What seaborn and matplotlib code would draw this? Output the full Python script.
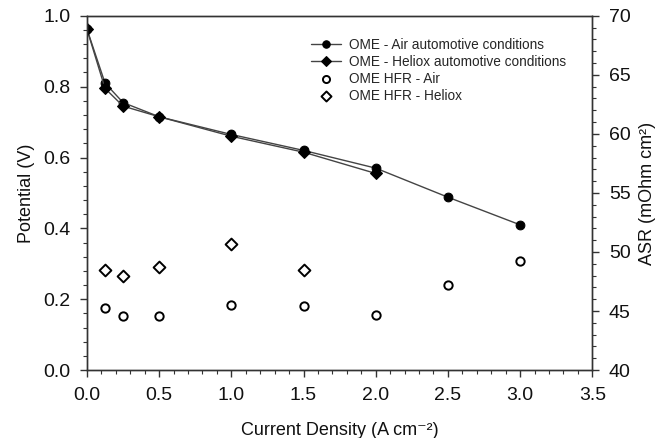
import matplotlib
matplotlib.use("Agg")
import matplotlib.pyplot as plt
from matplotlib.ticker import MultipleLocator, FormatStrFormatter
import seaborn as sns
import pandas as pd

sns.set_theme(style="white")
plt.rcParams['font.family'] = ['Liberation Sans', 'DejaVu Sans']

# Polarization curves
air_x = [0.0, 0.125, 0.25, 0.5, 1.0, 1.5, 2.0, 2.5, 3.0]
air_v = [0.962, 0.81, 0.755, 0.715, 0.665, 0.62, 0.57, 0.488, 0.41]
heliox_x = [0.0, 0.125, 0.25, 0.5, 1.0, 1.5, 2.0]
heliox_v = [0.962, 0.795, 0.745, 0.715, 0.66, 0.615, 0.555]

# HFR (ASR, mOhm cm2)
hfr_air_x = [0.125, 0.25, 0.5, 1.0, 1.5, 2.0, 2.5, 3.0]
hfr_air = [45.3, 44.6, 44.6, 45.5, 45.4, 44.7, 47.2, 49.2]
hfr_heliox_x = [0.125, 0.25, 0.5, 1.0, 1.5]
hfr_heliox = [48.5, 48.0, 48.7, 50.7, 48.5]

labels = ["OME - Air automotive conditions", "OME - Heliox automotive conditions",
          "OME HFR - Air", "OME HFR - Heliox"]

fig = plt.figure(figsize=(6.64, 4.38), dpi=100)
ax = fig.add_axes([0.131, 0.155, 0.761, 0.809])
ax2 = ax.twinx()

df_air = pd.DataFrame({"x": air_x, "y": air_v})
df_hel = pd.DataFrame({"x": heliox_x, "y": heliox_v})
sns.lineplot(data=df_air, x="x", y="y", ax=ax, color="#444444", lw=1.0,
             marker="o", markersize=6.3, markerfacecolor="black",
             markeredgecolor="black", label=labels[0], legend=False)
sns.lineplot(data=df_hel, x="x", y="y", ax=ax, color="#444444", lw=1.0,
             marker="D", markersize=6.0, markerfacecolor="black",
             markeredgecolor="black", label=labels[1], legend=False)

df_ha = pd.DataFrame({"x": hfr_air_x, "y": hfr_air})
df_hh = pd.DataFrame({"x": hfr_heliox_x, "y": hfr_heliox})
sns.scatterplot(data=df_ha, x="x", y="y", ax=ax2, marker="o", s=36,
                facecolor="white", edgecolor="black", linewidth=1.4,
                label=labels[2], legend=False)
sns.scatterplot(data=df_hh, x="x", y="y", ax=ax2, marker="D", s=36,
                facecolor="white", edgecolor="black", linewidth=1.4,
                label=labels[3], legend=False)

ax.set_xlim(0, 3.5)
ax.set_ylim(0, 1.0)
ax2.set_ylim(40, 70)
ax.xaxis.set_major_locator(MultipleLocator(0.5))
ax.xaxis.set_minor_locator(MultipleLocator(0.1))
ax.yaxis.set_major_locator(MultipleLocator(0.2))
ax.yaxis.set_minor_locator(MultipleLocator(0.04))
ax2.yaxis.set_major_locator(MultipleLocator(5))
ax2.yaxis.set_minor_locator(MultipleLocator(1))

ax.xaxis.set_major_formatter(FormatStrFormatter('%.1f'))
ax.yaxis.set_major_formatter(FormatStrFormatter('%.1f'))

for a in (ax, ax2):
    for s in a.spines.values():
        s.set_color("#333333")
        s.set_linewidth(1.0)
ax.tick_params(axis="both", which="major", direction="out", length=5,
               width=1, color="#333333", labelsize=14, pad=7, labelcolor="#111111")
ax.tick_params(axis="both", which="minor", direction="out", length=3,
               width=0.8, color="#333333")
ax.tick_params(axis="x", which="both", bottom=True, top=False)
ax.tick_params(axis="y", which="both", left=True, right=False)
ax2.tick_params(axis="y", which="major", direction="out", length=5, width=1,
                color="#333333", labelsize=14, labelcolor="#111111", right=True, pad=7)
ax2.tick_params(axis="y", which="minor", direction="out", length=3, width=0.8,
                color="#333333", right=True)

ax.set_xlabel("Current Density (A cm⁻²)", fontsize=13, color="#111111", labelpad=13)
ax.set_ylabel("Potential (V)", fontsize=13, color="#111111", labelpad=6)
ax2.set_ylabel("ASR (mOhm cm²)", fontsize=13, color="#111111", labelpad=6)

h1, l1 = ax.get_legend_handles_labels()
h2, l2 = ax2.get_legend_handles_labels()
ax2.legend(h1 + h2, l1 + l2, loc="upper right", bbox_to_anchor=(0.97, 0.968),
           frameon=False, fontsize=9.8, handlelength=2.2, handletextpad=0.6,
           labelspacing=0.22, borderaxespad=0.4, markerscale=0.85)

fig.savefig("out.png", dpi=100)
